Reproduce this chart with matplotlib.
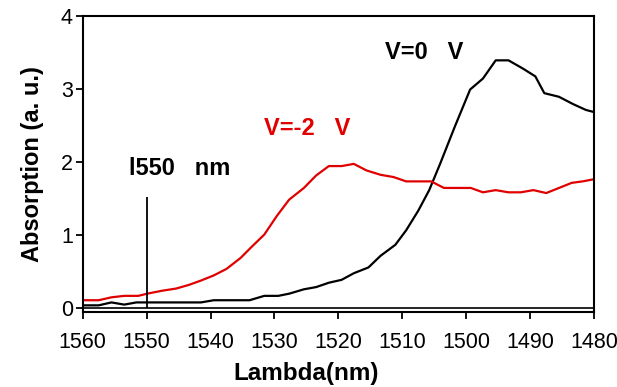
import numpy as np
import matplotlib
matplotlib.use("Agg")
from matplotlib import pyplot as plt

plt.rcParams['font.family'] = ['Liberation Sans', 'DejaVu Sans']

# absorption spectrum at V = 0 V
lam_0v = [1560, 1557.5, 1555.5, 1553.5, 1551.6, 1550.2, 1541.5, 1539.5, 1533.9, 1531.6,
          1529.4, 1527.7, 1525.4, 1523.5, 1521.5, 1519.5, 1517.6, 1515.3, 1513.4, 1511.1,
          1509.4, 1507.5, 1505.8, 1504.1, 1501.8, 1499.4, 1497.4, 1495.4, 1493.4, 1491.2,
          1489.2, 1487.8, 1485.5, 1483.3, 1481.3, 1480]
abs_0v = [0.03, 0.03, 0.07, 0.04, 0.07, 0.07, 0.07, 0.10, 0.10, 0.16,
          0.16, 0.19, 0.25, 0.28, 0.34, 0.38, 0.47, 0.55, 0.71, 0.86,
          1.06, 1.33, 1.61, 1.97, 2.48, 2.99, 3.14, 3.39, 3.39, 3.28,
          3.17, 2.94, 2.89, 2.79, 2.71, 2.68]

# absorption spectrum at V = -2 V
lam_2v = [1560, 1557.5, 1555.5, 1553.5, 1551.3, 1549.9, 1547.6, 1545.4, 1543.4, 1541.5,
          1539.5, 1537.5, 1535.3, 1533.6, 1531.6, 1529.6, 1527.7, 1525.4, 1523.5, 1521.5,
          1519.5, 1517.6, 1515.6, 1513.4, 1511.4, 1509.4, 1507.5, 1505.5, 1503.5, 1501.6,
          1499.3, 1497.4, 1495.4, 1493.4, 1491.5, 1489.5, 1487.5, 1485.5, 1483.5, 1481.8, 1480]
abs_2v = [0.10, 0.10, 0.14, 0.16, 0.16, 0.19, 0.23, 0.26, 0.31, 0.37,
          0.44, 0.53, 0.68, 0.83, 1.00, 1.26, 1.48, 1.64, 1.81, 1.94,
          1.94, 1.97, 1.88, 1.82, 1.79, 1.73, 1.73, 1.73, 1.64, 1.64,
          1.64, 1.58, 1.61, 1.58, 1.58, 1.61, 1.57, 1.64, 1.71, 1.73, 1.76]

x_ticks = [1560, 1550, 1540, 1530, 1520, 1510, 1500, 1490, 1480]
y_ticks = [0, 1, 2, 3, 4]
marker_lam = 1550
marker_top = 1.52

fig = plt.figure(figsize=(6.17, 3.87), dpi=100)
ax = fig.add_axes([0.134, 0.195, 0.829, 0.764])

ax.plot(lam_0v, abs_0v, color='black', lw=1.6)
ax.plot(lam_2v, abs_2v, color='#e00000', lw=1.6)
ax.axhline(0, color='black', lw=1.2)
ax.vlines(marker_lam, 0, marker_top, color='black', lw=1.3)

ax.text(1552.8, 1.91, 'l550   nm', fontsize=17, fontweight='bold', va='center', ha='left')
ax.text(1531.7, 2.46, 'V=-2   V', fontsize=17, fontweight='bold', color='#e00000', va='center', ha='left')
ax.text(1512.7, 3.5, 'V=0   V', fontsize=17, fontweight='bold', va='center', ha='left')

ax.set_xlim(1560, 1480)
ax.set_ylim(-0.055, 4)
ax.set_xticks(x_ticks)
ax.set_yticks(y_ticks)
ax.tick_params(axis='both', direction='out', length=5, width=1.3, labelsize=15.5)
ax.tick_params(axis='x', pad=10)
ax.tick_params(axis='y', pad=2)
for s in ax.spines.values():
    s.set_linewidth(1.5)

ax.set_xlabel('Lambda(nm)', fontsize=17.5, fontweight='bold')
ax.xaxis.set_label_coords(0.436, -0.17)
ax.set_ylabel('Absorption (a. u.)', fontsize=17, fontweight='bold', labelpad=12)

plt.savefig('out.png', dpi=100)
